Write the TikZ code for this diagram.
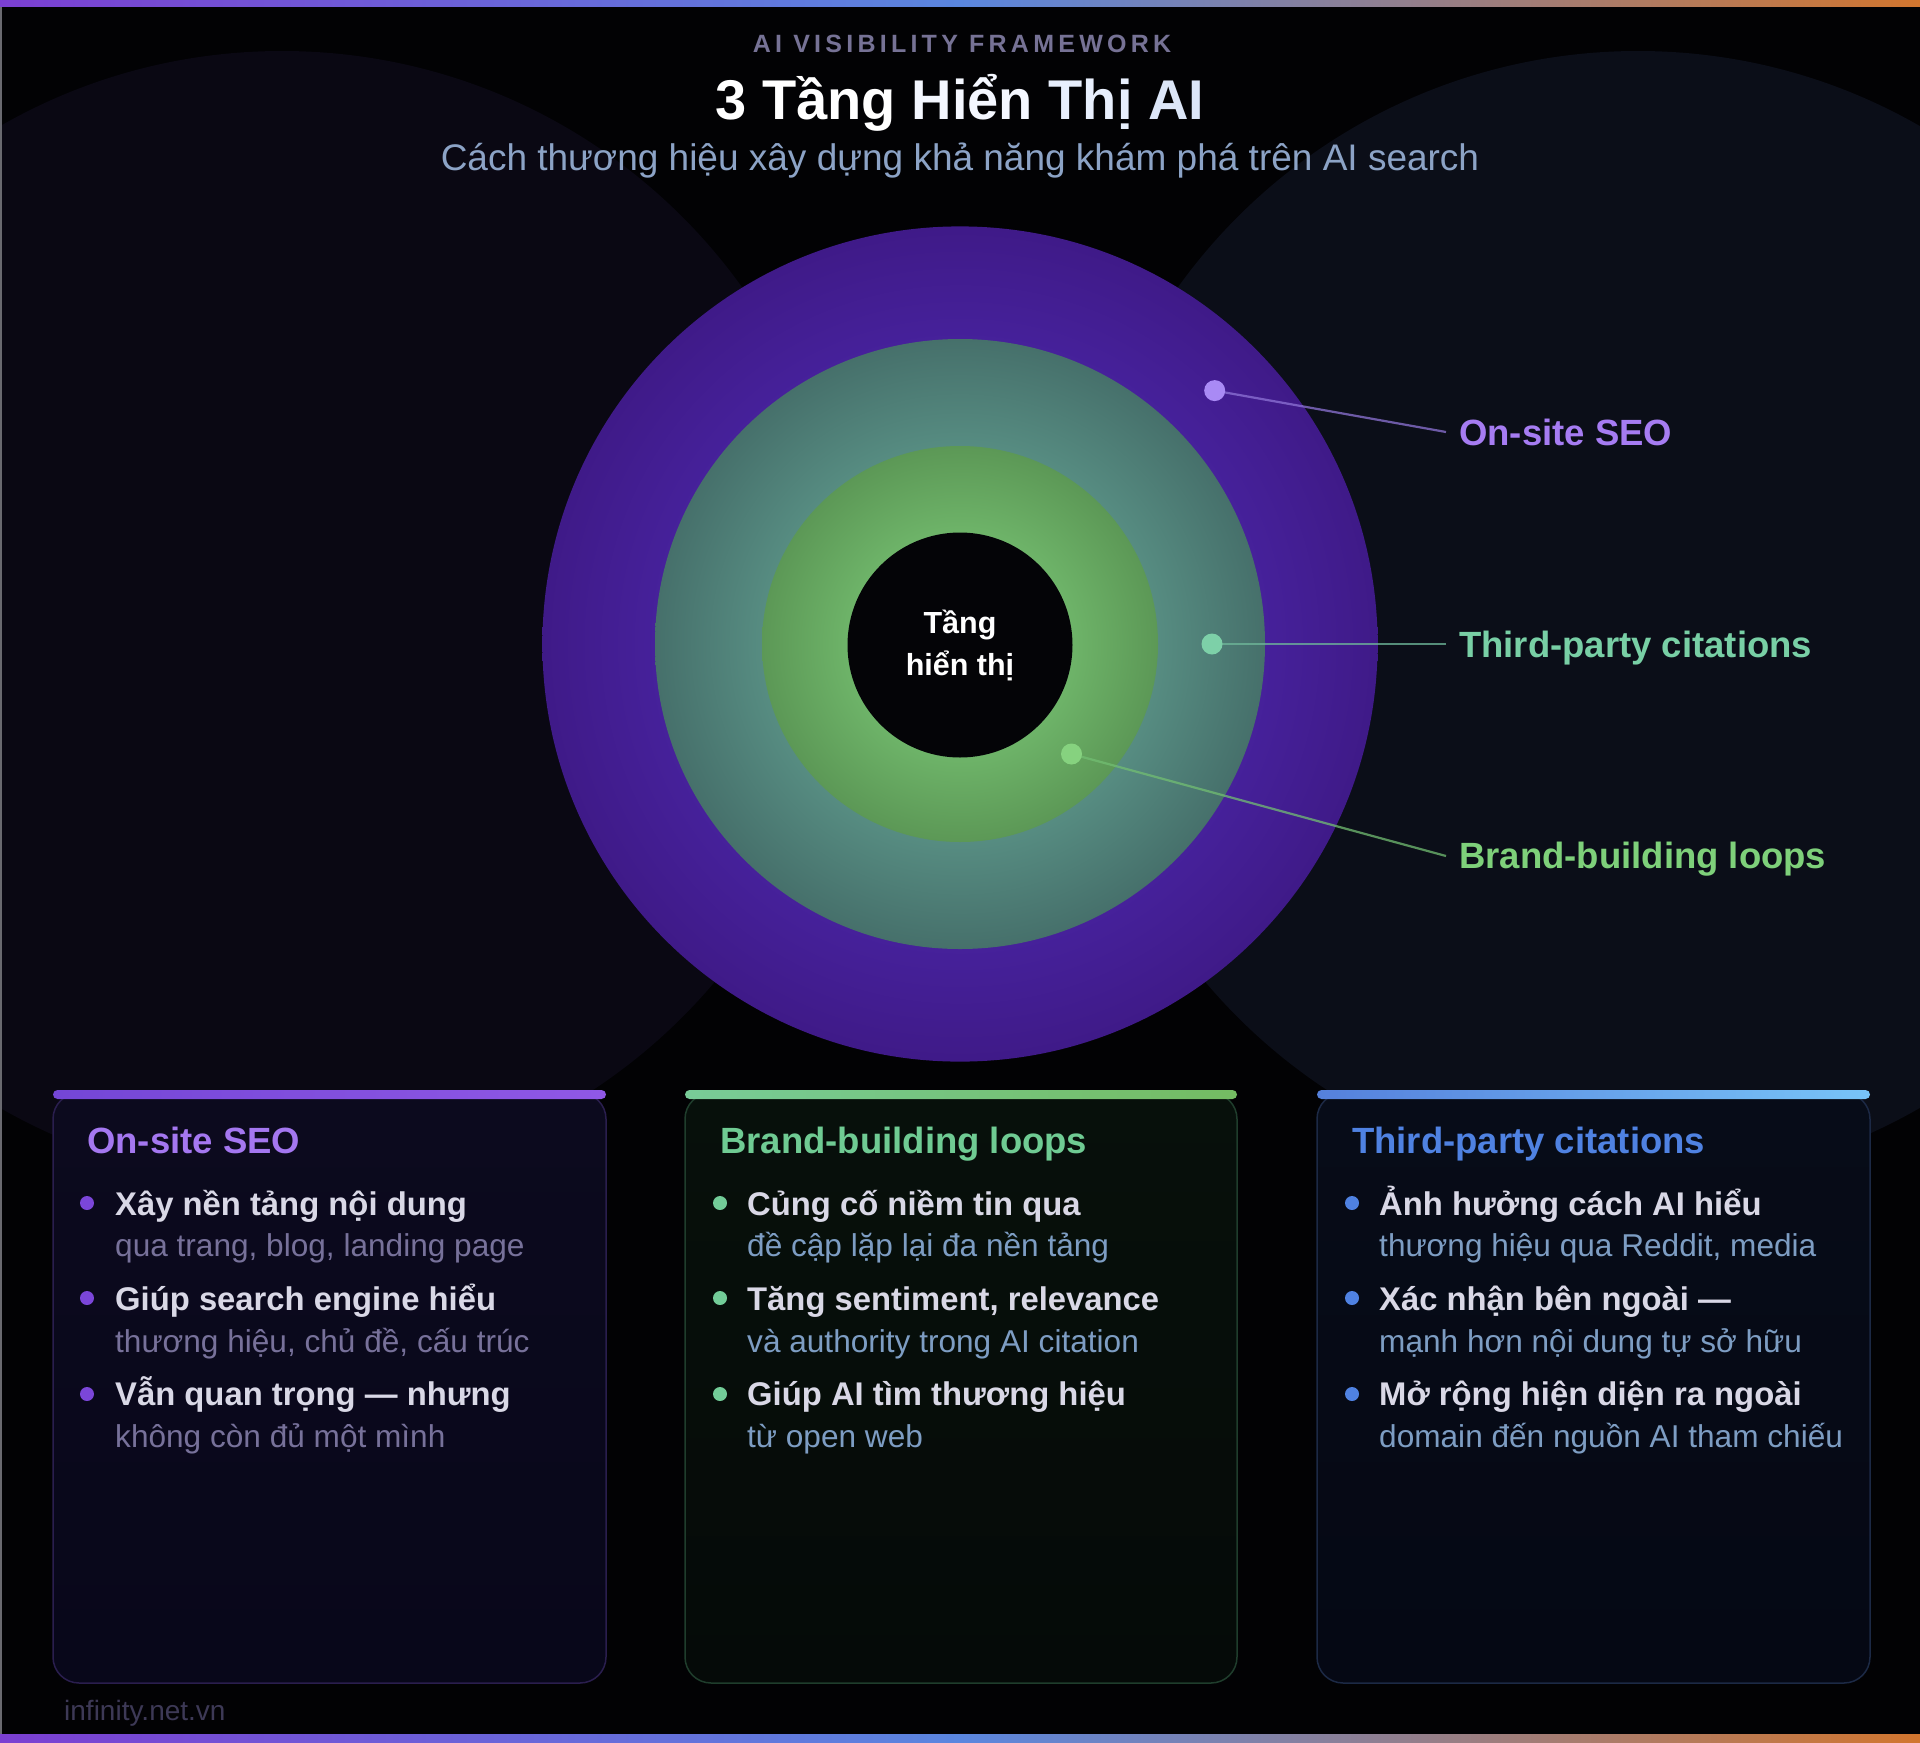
\documentclass[tikz,border=0pt]{standalone}
\usepackage{fontspec}
\setmainfont{Liberation Sans}
\newfontfamily\kickfont{Liberation Sans}[LetterSpace=17]

\definecolor{pageBg}{HTML}{020204}
\definecolor{bgL}{HTML}{0A0813}
\definecolor{bgR}{HTML}{0B0E18}
\definecolor{edgeC}{HTML}{6A6A70}
\definecolor{barA}{HTML}{7B3FD2}
\definecolor{barB}{HTML}{5A86DF}
\definecolor{barC}{HTML}{D2762F}
\definecolor{purA}{HTML}{3F1A88}
\definecolor{purB}{HTML}{46219B}
\definecolor{tealA}{HTML}{46706B}
\definecolor{tealB}{HTML}{578D82}
\definecolor{grnA}{HTML}{5C9856}
\definecolor{grnB}{HTML}{6EB469}
\definecolor{coreC}{HTML}{040407}
\definecolor{kickC}{HTML}{767295}
\definecolor{subC}{HTML}{8CA3C6}
\definecolor{lblP}{HTML}{A67CF2}
\definecolor{lblT}{HTML}{78CFA5}
\definecolor{lblG}{HTML}{7ED07A}
\definecolor{dotP}{HTML}{A98AF5}
\definecolor{dotT}{HTML}{7DD0A8}
\definecolor{dotG}{HTML}{86D27F}
\definecolor{lnP}{HTML}{8E74D6}
\definecolor{lnT}{HTML}{6FB89A}
\definecolor{lnG}{HTML}{72BE72}
\definecolor{mainC}{HTML}{D9D8E6}
\definecolor{subP}{HTML}{77719A}
\definecolor{subB}{HTML}{7D9DC3}
\definecolor{ttlP}{HTML}{A477F0}
\definecolor{ttlG}{HTML}{6FCB93}
\definecolor{ttlB}{HTML}{4F82E2}
\definecolor{bulP}{HTML}{7B46D9}
\definecolor{bulG}{HTML}{72CC98}
\definecolor{bulB}{HTML}{4F82E2}
\definecolor{cardPt}{HTML}{0C0A1E}
\definecolor{cardPb}{HTML}{08071A}
\definecolor{cardGt}{HTML}{07100B}
\definecolor{cardGb}{HTML}{050A08}
\definecolor{cardBt}{HTML}{070C18}
\definecolor{cardBb}{HTML}{050814}
\definecolor{brdP}{HTML}{2A1E4E}
\definecolor{brdG}{HTML}{1F3D2C}
\definecolor{brdB}{HTML}{1C2945}
\definecolor{barPa}{HTML}{7446D6}
\definecolor{barPb}{HTML}{9058E6}
\definecolor{barGa}{HTML}{78CC98}
\definecolor{barGb}{HTML}{74BC62}
\definecolor{barBa}{HTML}{5580DC}
\definecolor{barBb}{HTML}{78C4F8}
\definecolor{footC}{HTML}{3D3956}

\pgfdeclareradialshading{purSh}{\pgfpoint{0bp}{0bp}}{color(0bp)=(purB); color(18bp)=(purB); color(25bp)=(purA); color(50bp)=(purA)}
\pgfdeclareradialshading{tealSh}{\pgfpoint{0bp}{0bp}}{color(0bp)=(tealB); color(16bp)=(tealB); color(25bp)=(tealA); color(50bp)=(tealA)}
\pgfdeclareradialshading{grnSh}{\pgfpoint{0bp}{0bp}}{color(0bp)=(grnB); color(14bp)=(grnB); color(25bp)=(grnA); color(50bp)=(grnA)}

\tikzset{
  ringlbl/.style={anchor=base west, inner sep=0pt, font=\fontsize{36.5}{40}\selectfont\bfseries},
  ctitle/.style={anchor=base west, inner sep=0pt, font=\fontsize{36.5}{40}\selectfont\bfseries},
  mainln/.style={anchor=base west, inner sep=0pt, text=mainC, font=\fontsize{32.8}{36}\selectfont\bfseries},
  subln/.style={anchor=base west, inner sep=0pt, font=\fontsize{31.6}{36}\selectfont},
  ringdot/.style={circle, inner sep=0pt, minimum size=21pt},
  buldot/.style={circle, inner sep=0pt, minimum size=14pt},
  conn/.style={line width=2.2pt, opacity=0.75},
  cardbox/.style={rounded corners=26pt, line width=1.5pt},
  topbar/.style={rounded corners=4.5pt},
  rainbow/.style={left color=barA, right color=barC, middle color=barB},
}

\begin{document}
\begin{tikzpicture}[x=1pt,y=-1pt]
\useasboundingbox (0,0) rectangle (1920,1743);
% background
\fill[pageBg] (0,0) rectangle (1920,1743);
\fill[bgL] (282,617) circle[radius=566];
\fill[bgR] (1638,617) circle[radius=566];
\draw[edgeC, line width=1.5pt] (0.75,0) -- (0.75,1743);
\fill[rainbow] (0,0) rectangle (1920,6);
\fill[rainbow] (0,1734) rectangle (1920,1743);

% header
\node[anchor=base, inner sep=0pt, text=kickC, font=\kickfont\fontsize{25}{28}\selectfont\bfseries] (kicker) at (962,52) {AI VISIBILITY FRAMEWORK};
\node[anchor=base, inner sep=0pt, font=\fontsize{56}{60}\selectfont\bfseries] (title) at (960,119)
  {\textcolor[HTML]{FFFFFF}{3 Tầng} \textcolor[HTML]{F4F7FF}{Hiển} \textcolor[HTML]{E8EFFD}{Thị} \textcolor[HTML]{DCE6F8}{AI}};
\node[anchor=base, inner sep=0pt, text=subC, font=\fontsize{37}{40}\selectfont] (subtitle) at (960,170)
  {Cách thương hiệu xây dựng khả năng khám phá trên AI search};

% rings
\path[shading=purSh] (960,644) circle[radius=417.6];
\path[shading=tealSh] (960,644) circle[radius=305];
\path[shading=grnSh] (960,644) circle[radius=198];
\node[circle, fill=coreC, minimum size=225pt, inner sep=0pt, align=center, text=white,
      font=\fontsize{30.5}{42}\selectfont\bfseries] (core) at (960,645) {Tầng\\hiển thị};

% ring labels
\coordinate (p1) at (1214.7,390.6);
\coordinate (e1) at (1446,432);
\coordinate (p2) at (1212,644);
\coordinate (e2) at (1446,644);
\coordinate (p3) at (1071.5,754);
\coordinate (e3) at (1446,856);
\draw[conn, lnP] (p1) -- (e1);
\draw[conn, lnT] (p2) -- (e2);
\draw[conn, lnG] (p3) -- (e3);
\node[ringdot, fill=dotP] (d1) at (p1) {};
\node[ringdot, fill=dotT] (d2) at (p2) {};
\node[ringdot, fill=dotG] (d3) at (p3) {};
\node[ringlbl, text=lblP] (l1) at (1459,445) {On-site SEO};
\node[ringlbl, text=lblT] (l2) at (1459,657) {Third-party citations};
\node[ringlbl, text=lblG] (l3) at (1459,868) {Brand-building loops};

% card 1
\draw[cardbox, draw=brdP, top color=cardPt, bottom color=cardPb] (53,1093) rectangle (606,1683);
\fill[topbar, left color=barPa, right color=barPb] (53,1090) rectangle (606,1099);
\node[ctitle, text=ttlP] (c1t) at (87,1153) {On-site SEO};
\node[buldot, fill=bulP] (c1d1) at (87,1203) {};
\node[mainln] (c1m1) at (115,1215) {Xây nền tảng nội dung};
\node[subln, text=subP] (c1s1) at (115,1256) {qua trang, blog, landing page};
\node[buldot, fill=bulP] (c1d2) at (87,1298) {};
\node[mainln] (c1m2) at (115,1310) {Giúp search engine hiểu};
\node[subln, text=subP] (c1s2) at (115,1352) {thương hiệu, chủ đề, cấu trúc};
\node[buldot, fill=bulP] (c1d3) at (87,1394) {};
\node[mainln] (c1m3) at (115,1405) {Vẫn quan trọng — nhưng};
\node[subln, text=subP] (c1s3) at (115,1447) {không còn đủ một mình};

% card 2
\draw[cardbox, draw=brdG, top color=cardGt, bottom color=cardGb] (685,1093) rectangle (1237,1683);
\fill[topbar, left color=barGa, right color=barGb] (685,1090) rectangle (1237,1099);
\node[ctitle, text=ttlG] (c2t) at (720,1153) {Brand-building loops};
\node[buldot, fill=bulG] (c2d1) at (720,1203) {};
\node[mainln] (c2m1) at (747,1215) {Củng cố niềm tin qua};
\node[subln, text=subB] (c2s1) at (747,1256) {đề cập lặp lại đa nền tảng};
\node[buldot, fill=bulG] (c2d2) at (720,1298) {};
\node[mainln] (c2m2) at (747,1310) {Tăng sentiment, relevance};
\node[subln, text=subB] (c2s2) at (747,1352) {và authority trong AI citation};
\node[buldot, fill=bulG] (c2d3) at (720,1394) {};
\node[mainln] (c2m3) at (747,1405) {Giúp AI tìm thương hiệu};
\node[subln, text=subB] (c2s3) at (747,1447) {từ open web};

% card 3
\draw[cardbox, draw=brdB, top color=cardBt, bottom color=cardBb] (1317,1093) rectangle (1870,1683);
\fill[topbar, left color=barBa, right color=barBb] (1317,1090) rectangle (1870,1099);
\node[ctitle, text=ttlB] (c3t) at (1352,1153) {Third-party citations};
\node[buldot, fill=bulB] (c3d1) at (1352,1203) {};
\node[mainln] (c3m1) at (1379,1215) {Ảnh hưởng cách AI hiểu};
\node[subln, text=subB] (c3s1) at (1379,1256) {thương hiệu qua Reddit, media};
\node[buldot, fill=bulB] (c3d2) at (1352,1298) {};
\node[mainln] (c3m2) at (1379,1310) {Xác nhận bên ngoài —};
\node[subln, text=subB] (c3s2) at (1379,1352) {mạnh hơn nội dung tự sở hữu};
\node[buldot, fill=bulB] (c3d3) at (1352,1394) {};
\node[mainln] (c3m3) at (1379,1405) {Mở rộng hiện diện ra ngoài};
\node[subln, text=subB] (c3s3) at (1379,1447) {domain đến nguồn AI tham chiếu};

% footer
\node[anchor=base west, inner sep=0pt, text=footC, font=\fontsize{28}{30}\selectfont] (footer) at (64,1720) {infinity.net.vn};
\end{tikzpicture}
\end{document}
